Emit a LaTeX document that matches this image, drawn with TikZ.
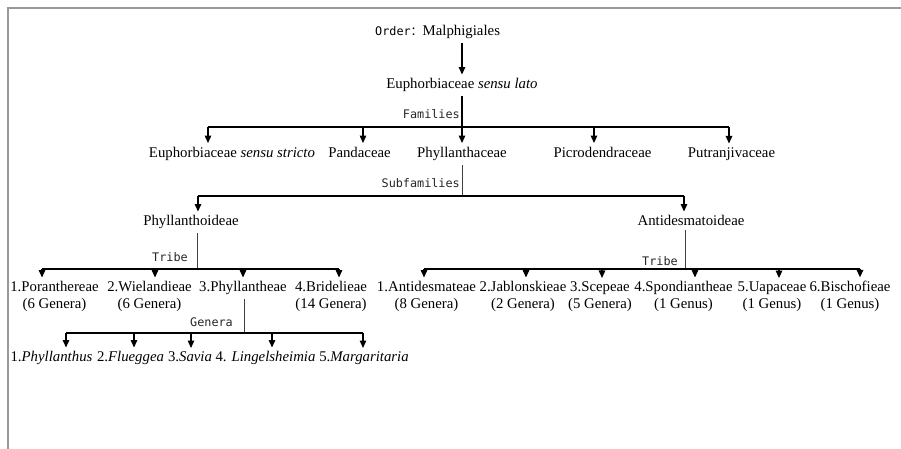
\documentclass[tikz,border=0pt]{standalone}
\usepackage{fontspec}
\setmainfont{Liberation Serif}
\newfontfamily\labfont{DejaVu Sans Mono}
\newfontfamily\cjkfont{Noto Sans CJK SC}
\usetikzlibrary{arrows.meta}
\begin{document}
\begin{tikzpicture}[x=1bp,y=-1bp,
  txt/.style={font=\fontsize{14.8bp}{17bp}\selectfont, inner xsep=0bp, inner ysep=4bp, anchor=base},
  lab/.style={font=\labfont\fontsize{11.8bp}{14bp}\selectfont, text=black!85, inner sep=0bp},
  arr/.style={line width=1.3bp, -{Triangle[width=6.5bp,length=7.5bp]}},
  bar/.style={line width=1.1bp},
  stem/.style={line width=0.8bp, black!75},
  frame/.style={line width=2bp, black!40}]
\useasboundingbox (0,0) rectangle (901,449);
\draw[frame] (8,449) -- (8,8) -- (901,8);

% order and family level
\node[txt, anchor=base west] (order) at (375,36) {{\labfont\fontsize{11.8bp}{14bp}\selectfont Order}{\cjkfont\fontsize{12bp}{14bp}\selectfont ：}Malphigiales};
\node[txt] (lato) at (462,89) {Euphorbiaceae \textit{sensu lato}};
\draw[arr] (lato.north |- order.south) -- (lato.north);

\node[txt] (ess) at (232,157.5) {Euphorbiaceae \textit{sensu stricto}};
\node[txt] (pan) at (359.5,157.5) {Pandaceae};
\node[txt] (phy) at (462,157.5) {Phyllanthaceae};
\node[txt] (pic) at (602.5,157.5) {Picrodendraceae};
\node[txt] (put) at (731.5,157.5) {Putranjivaceae};

\coordinate (fb1) at (208,127);
\coordinate (fb2) at (363,127);
\coordinate (fb4) at (594,127);
\coordinate (fb5) at (729,127);
\draw[bar] (fb1) -- (fb5);
\draw[arr] (lato.south) -- (phy.north);
\draw[arr] (fb1) -- (fb1 |- ess.north);
\draw[arr] (fb2) -- (fb2 |- pan.north);
\draw[arr] (fb4) -- (fb4 |- pic.north);
\draw[arr] (fb5) -- (fb5 |- put.north);
\node[lab, anchor=base east] (famlab) at (460,119) {Families};

% subfamilies
\node[txt] (phd) at (191,226) {Phyllanthoideae};
\node[txt] (ant) at (691,226) {Antidesmatoideae};
\coordinate (sbL) at (198,196);
\coordinate (sbR) at (684,196);
\draw[stem] (phy.south) -- (phy.south |- sbL);
\draw[bar] (sbL) -- (sbR);
\draw[arr] (sbL) -- (sbL |- phd.north);
\draw[arr] (sbR) -- (sbR |- ant.north);
\node[lab, anchor=base east] (sublab) at (460,188) {Subfamilies};

% tribes of Phyllanthoideae
\node[txt] (por) at (54.5,292) {1.Poranthereae};
\node[txt] (wie) at (149.5,292) {2.Wielandieae};
\node[txt] (phe) at (243,292) {3.Phyllantheae};
\node[txt] (bri) at (331,292) {4.Bridelieae};
\node[txt] (porn) at (54.5,309) {(6 Genera)};
\node[txt] (wien) at (149.5,309) {(6 Genera)};
\node[txt] (brin) at (331,309) {(14 Genera)};
\coordinate (tLs) at (197,269);
\coordinate (tL1) at (42,269);
\coordinate (tL2) at (155,269);
\coordinate (tL3) at (243,269);
\coordinate (tL4) at (339,269);
\draw[stem] (tLs |- phd.south) -- (tLs);
\draw[bar] (tL1) -- (tL4);
\draw[arr] (tL1) -- (tL1 |- por.north);
\draw[arr] (tL2) -- (tL2 |- wie.north);
\draw[arr] (tL3) -- (tL3 |- phe.north);
\draw[arr] (tL4) -- (tL4 |- bri.north);
\node[lab, anchor=base west] (tribeL) at (152,262) {Tribe};

% tribes of Antidesmatoideae
\node[txt] (adm) at (426.5,292) {1.Antidesmateae};
\node[txt] (jab) at (523,292) {2.Jablonskieae};
\node[txt] (sce) at (600,292) {3.Scepeae};
\node[txt] (spo) at (683.5,292) {4.Spondiantheae};
\node[txt] (uap) at (772,292) {5.Uapaceae};
\node[txt] (bis) at (850,292) {6.Bischofieae};
\node[txt] (admn) at (426.5,309) {(8 Genera)};
\node[txt] (jabn) at (523,309) {(2 Genera)};
\node[txt] (scen) at (600,309) {(5 Genera)};
\node[txt] (spon) at (683.5,309) {(1 Genus)};
\node[txt] (uapn) at (772,309) {(1 Genus)};
\node[txt] (bisn) at (850,309) {(1 Genus)};
\coordinate (tRs) at (685,269);
\coordinate (tR1) at (424,269);
\coordinate (tR2) at (526,269);
\coordinate (tR3) at (602,269);
\coordinate (tR4) at (695,269);
\coordinate (tR5) at (779,269);
\coordinate (tR6) at (860,269);
\draw[stem] (tRs |- ant.south) -- (tRs);
\draw[bar] (tR1) -- (tR6);
\draw[arr] (tR1) -- (tR1 |- adm.north);
\draw[arr] (tR2) -- (tR2 |- jab.north);
\draw[arr] (tR3) -- (tR3 |- sce.north);
\draw[arr] (tR4) -- (tR4 |- spo.north);
\draw[arr] (tR5) -- (tR5 |- uap.north);
\draw[arr] (tR6) -- (tR6 |- bis.north);
\node[lab, anchor=base west] (tribeR) at (642,266) {Tribe};

% genera of Phyllantheae
\node[txt] (g1) at (51.5,362) {1.\textit{Phyllanthus}};
\node[txt] (g2) at (130.5,362) {2.\textit{Flueggea}};
\node[txt] (g3) at (190,362) {3.\textit{Savia}};
\node[txt] (g4) at (265.5,362) {4. \textit{Lingelsheimia}};
\node[txt] (g5) at (364,362) {5.\textit{Margaritaria}};
\coordinate (gs) at (244,333);
\coordinate (gb1) at (66,333);
\coordinate (gb2) at (134,333);
\coordinate (gb3) at (191,333);
\coordinate (gb4) at (272,333);
\coordinate (gb5) at (363,333);
\draw[stem] (gs |- phe.south) -- (gs);
\draw[bar] (gb1) -- (gb5);
\draw[arr] (gb1) -- (gb1 |- g1.north);
\draw[arr] (gb2) -- (gb2 |- g2.north);
\draw[arr] (gb3) -- (gb3 |- g3.north);
\draw[arr] (gb4) -- (gb4 |- g4.north);
\draw[arr] (gb5) -- (gb5 |- g5.north);
\node[lab, anchor=base west] (genlab) at (190,327) {Genera};
\end{tikzpicture}
\end{document}
